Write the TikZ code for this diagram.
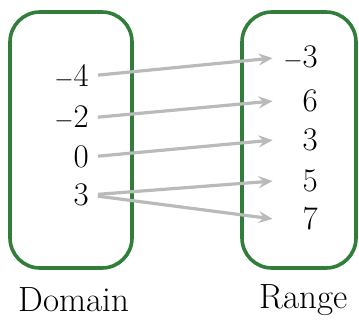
\documentclass[tikz,border=0pt]{standalone}
\usetikzlibrary{arrows.meta, positioning}

\definecolor{setgreen}{RGB}{48,126,58}
\definecolor{mapgray}{RGB}{186,186,186}

\begin{document}
\begin{tikzpicture}[
  x=1pt, y=-1pt,
  setbox/.style = {draw=setgreen, line width=3.6pt, rounded corners=30pt},
  num/.style = {inner sep=0pt, text width=44pt, align=right, anchor=east,
                font=\fontsize{33}{38}\selectfont},
  title/.style = {inner sep=0pt, font=\fontsize{35}{40}\selectfont},
  maparrow/.style = {draw=mapgray, line width=3.2pt,
                     -{Stealth[length=14pt, width=12pt, inset=5pt]},
                     shorten <=9pt, shorten >=1pt}
]
\useasboundingbox (0,0) rectangle (359,325);

% Domain and range sets
\draw[setbox] (10,12) rectangle (132,268);
\draw[setbox] (242,12) rectangle (356,268);

% Domain values
\node[num] (dm4) at (89,76)  {$-$4};
\node[num] (dm2) at (89,118) {$-$2};
\node[num] (d0)  at (89,157) {0};
\node[num] (d3)  at (89,195) {3};

% Range values
\node[num] (rm3) at (318,58)  {$-$3};
\node[num] (r6)  at (318,101) {6};
\node[num] (r3)  at (318,140) {3};
\node[num] (r5)  at (318,181) {5};
\node[num] (r7)  at (318,219) {7};

% Mapping
\draw[maparrow] (dm4.east) -- (rm3.west);
\draw[maparrow] (dm2.east) -- (r6.west);
\draw[maparrow] (d0.east) -- (r3.west);
\draw[maparrow] (d3.east) -- (r5.west);
\draw[maparrow] (d3.east) -- (r7.west);

% Labels
\node[title] (domain) at (74,300) {Domain};
\node[title] (range) at (304,300) {Range};

\end{tikzpicture}
\end{document}
